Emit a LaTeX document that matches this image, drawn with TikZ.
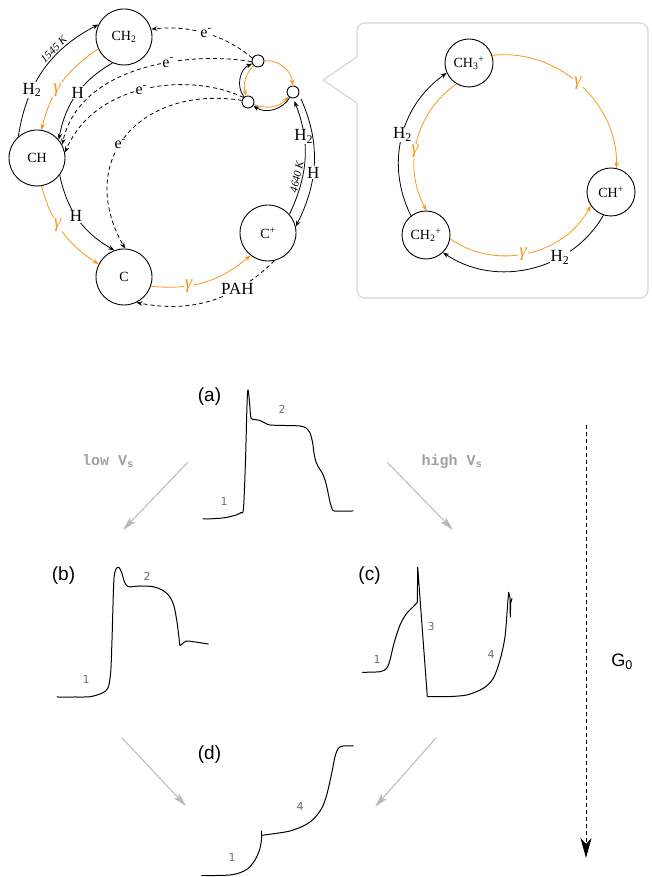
\documentclass[tikz,border=0pt]{standalone}
\usepackage{fontspec}
\setmainfont{Liberation Serif}
\newfontfamily\sansf{Liberation Sans}
\newfontfamily\monof{Liberation Mono}
\newfontfamily\numf{DejaVu Sans}
\usetikzlibrary{arrows.meta}
\definecolor{orng}{RGB}{247,152,29}
\definecolor{boxgray}{RGB}{214,214,214}
\definecolor{arrgray}{RGB}{185,185,185}
\definecolor{txtgray}{RGB}{160,160,160}
\definecolor{numgray}{RGB}{110,110,110}
\tikzset{
  species/.style={circle, draw, line width=0.9pt, minimum size=56pt, inner sep=0pt, font=\fontsize{14}{14}\selectfont},
  ion/.style={circle, draw, line width=0.9pt, minimum size=48pt, inner sep=0pt, font=\fontsize{14}{14}\selectfont},
  dot/.style={circle, draw, line width=0.9pt, minimum size=12pt, inner sep=0pt},
  rx/.style={line width=0.8pt, -{Stealth[length=6pt,width=4.5pt]}},
  grx/.style={rx, color=orng},
  erx/.style={rx, dash pattern=on 4pt off 3pt},
  lab/.style={fill=white, inner sep=1pt, font=\fontsize{17}{17}\selectfont},
  glab/.style={fill=white, inner sep=1pt, text=orng, font=\fontsize{19}{19}\selectfont\itshape},
  elab/.style={fill=white, inner sep=1pt, font=\fontsize{16}{16}\selectfont},
  temp/.style={font=\fontsize{11}{11}\selectfont\itshape, sloped, inner sep=1.5pt},
  trace/.style={line width=1pt, line join=round, line cap=round},
  panel/.style={font=\sansf\fontsize{19}{19}\selectfont, inner sep=0pt},
  num/.style={font=\numf\fontsize{11}{11}\selectfont, text=numgray, inner sep=0pt},
  vs/.style={font=\monof\bfseries\fontsize{15}{15}\selectfont, text=txtgray, inner sep=0pt},
  garr/.style={draw=arrgray, line width=1pt, -{Stealth[length=14pt,width=7pt,inset=3pt]}},
}
\begin{document}
\begin{tikzpicture}[x=1pt,y=1pt]
\useasboundingbox (0,0) rectangle (651,877);

% ---------- main cycle ----------
\node[species] (CH2) at (124,840) {CH\textsubscript{2}};
\node[species] (CH) at (37,719) {CH};
\node[species] (C) at (124,600) {C};
\node[species] (Cp) at (268,644) {C\textsuperscript{+}};
\node[dot] (sA) at (258,816) {};
\node[dot] (sB) at (293,785) {};
\node[dot] (sC) at (248,775) {};

\draw[rx] (CH.131) to[bend left=27] node[lab,pos=0.33]{H\textsubscript{2}} node[temp,above,pos=0.66]{1545 K} (CH2.154);
\draw[grx] (CH2.205) to[bend right=21.5] node[glab,pos=0.58]{γ} (CH.81);
\draw[rx] (CH2.246) to[bend right=24.5] node[lab,pos=0.47]{H} (CH.40);
\draw[rx] (CH.323) to[bend right=24] node[lab,pos=0.46]{H} (C.110);
\draw[grx] (CH.279) to[bend right=21] node[glab,pos=0.42]{γ} (C.153);
\draw[grx] (C.341) to[bend right=23] node[glab,pos=0.34]{γ} (Cp.232);
\draw[erx] (Cp.283) to[bend left=27.75] node[lab,pos=0.3]{PAH} (C.296);
\draw[rx, shorten >=3pt] (Cp.41) to[bend right=23.35] node[lab,pos=0.68]{H\textsubscript{2}} node[temp,above,pos=0.31]{4640 K} (sB.273);
\draw[rx, shorten <=5pt] (sB.338) to[bend left=25.4] node[lab,pos=0.59]{H} (Cp.13);

% electron recombination
\draw[erx] (sA.153) .. controls (225,842) and (190,852) .. node[elab,pos=0.5]{e\textsuperscript{-}} (CH2.16);
\draw[erx] (sA.186) .. controls (190,826) and (80,812) .. node[elab,pos=0.38]{e\textsuperscript{-}} (CH.28);
\draw[erx] (sC.135) .. controls (190,805) and (95,795) .. node[elab,pos=0.52]{e\textsuperscript{-}} (CH.11);
\draw[erx] (sC.165) .. controls (140,792) and (75,717) .. node[elab,pos=0.55]{e\textsuperscript{-}} (C.88);

% small loop
\draw[grx] (sA) to[bend left=45] (sB);
\draw[grx] (sA) to[bend right=30] (sC);
\draw[grx] (sC) to[bend right=35] (sB);
\draw[rx] (sC) to[bend left=52] (sA);
\draw[rx] (sB) to[bend left=47] (sC);

% ---------- inset ----------
\draw[boxgray, line width=1.2pt, rounded corners=8pt] (357,820) -- (357,854) -- (648,854) -- (648,579) -- (357,579) -- (357,774);
\draw[boxgray, line width=1.2pt, line join=round] (357,820) -- (323,797) -- (357,774);

\node[ion] (I3) at (469,814) {CH\textsubscript{3}\textsuperscript{+}};
\node[ion] (I1) at (611,685) {CH\textsuperscript{+}};
\node[ion] (I2) at (426,642) {CH\textsubscript{2}\textsuperscript{+}};
\draw[grx] (I3.18) to[bend left=49] node[glab,pos=0.49]{γ} (I1.77);
\draw[grx] (I3.239) to[bend right=41.5] node[glab,pos=0.57]{γ} (I2.89);
\draw[grx] (I2.351) to[bend right=48.5] node[glab,pos=0.47]{γ} (I1.214);
\draw[rx] (I1.252) to[bend left=47] node[lab,pos=0.33]{H\textsubscript{2}} (I2.314);
\draw[rx] (I2.128) to[bend left=40.5] node[lab,pos=0.52]{H\textsubscript{2}} (I3.204);

% ---------- lower half (y measured downwards) ----------
\begin{scope}[shift={(0,877)}, yscale=-1]
% (a)
\node[panel] (pa) at (209.5,396.5) {(a)};
\draw[trace] plot[smooth, tension=0.55] coordinates {(203,519) (215,518.6) (226,517.5) (236,515) (241,512.5) (243.5,508) (245.5,460) (247,405) (248,390) (249.5,402) (251,418) (255,419.5) (260,420.5) (265,423) (270,425) (285,425.5) (300,426) (306,428) (310,433) (312.5,442) (314,453) (316,462) (319,468) (322,472.5) (325,480) (327.5,490) (330,502) (333,510.5) (338,511) (353,511)};
\node[num] (a1) at (224,501) {1};
\node[num] (a2) at (282,409) {2};
% (b)
\node[panel] (pb) at (63.5,576) {(b)};
\draw[trace] plot[smooth, tension=0.5] coordinates {(57,697) (75,697) (90,696.7) (101.7,693.3) (108,688) (110.7,672) (112,640) (113,605) (114,578) (116,569) (118.7,567.3) (121.5,572) (124.5,582) (128.3,586.7) (140,586) (153,586.7) (163,590.5) (170,597) (174,606) (177,622) (178.8,636) (180,645.5) (182.7,643.3) (186.7,641) (193.3,641.7) (208.3,644)};
\node[num] (b1) at (86,679) {1};
\node[num] (b2) at (147,576) {2};
% (c)
\node[panel] (pc) at (369.5,576) {(c)};
\draw[trace] plot[smooth, tension=0.5] coordinates {(362.3,672.3) (380,671.7) (386.7,668.3) (390,660) (394,643.3) (400,625) (406.7,613.3) (413.3,606.7) (417.3,602.3)} -- (417.7,567.3) -- (427.3,696.7) --plot[smooth, tension=0.5] coordinates {(446.7,696.7) (466.7,695) (483.3,688.3) (493.3,678.3) (500,660) (505,636.7) (507.7,603.3) (508.7,592.3)} -- (510,598) -- (510.3,617) -- (510.7,603) -- (512,598.5);
\node[num] (c1) at (377,659) {1};
\node[num] (c3) at (431,627) {3};
\node[num] (c4) at (491,654) {4};
% (d)
\node[panel] (pd) at (209.5,755) {(d)};
\draw[trace] plot[smooth, tension=0.5] coordinates {(201.7,875.7) (215,875.5) (230,875) (240,872.7) (248.3,868.3) (255,860) (259.5,850) (261.5,840) (261.7,836)};
\draw[trace] (261.7,831) -- (261.7,837);
\draw[trace] plot[smooth, tension=0.5] coordinates {(261.7,835.3) (276.7,833.3) (290,831) (303.3,826) (313.3,819.3) (321.7,808.3) (326.7,795) (331.7,773.3) (335,756.7) (338.3,748.3) (343.3,746) (353.3,746)};
\node[num] (d1) at (232,857) {1};
\node[num] (d4) at (300,806) {4};

% gray transition arrows
\coordinate (lowS) at (188,462);  \coordinate (lowE) at (123,530);
\coordinate (highS) at (387,462); \coordinate (highE) at (453,530);
\coordinate (blS) at (122,738);   \coordinate (blE) at (186,806);
\coordinate (brS) at (436,738);   \coordinate (brE) at (375,807);
\draw[garr] (lowS) -- (lowE);
\draw[garr] (highS) -- (highE);
\draw[garr] (blS) -- (blE);
\draw[garr] (brS) -- (brE);
\node[vs] (lowlab) at (108,461) {low V\textsubscript{s}};
\node[vs] (highlab) at (452,462) {high V\textsubscript{s}};

% G0 axis
\coordinate (gS) at (586,425);
\coordinate (gE) at (586,858);
\draw[line width=1pt, dash pattern=on 4pt off 3pt] (gS) -- ([yshift=-10pt]gE);
\draw[line width=1pt, -{Stealth[length=20pt,width=11pt,inset=6pt]}] ([yshift=-12pt]gE) -- (gE);
\node[panel, font=\sansf\fontsize{18}{18}\selectfont] (G0) at (622,662) {G\textsubscript{0}};
\end{scope}
\end{tikzpicture}
\end{document}
